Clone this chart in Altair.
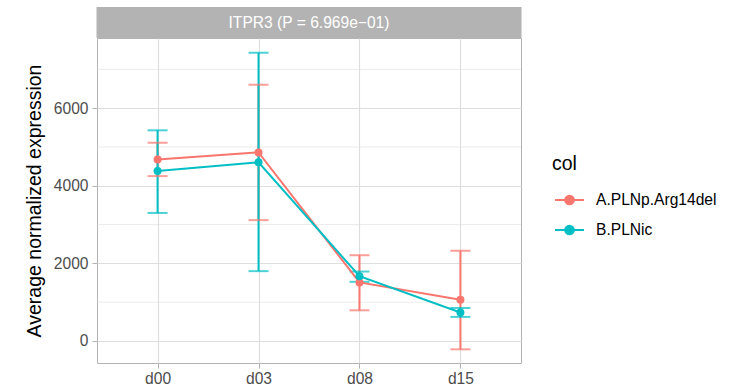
import altair as alt
import pandas as pd

# Group mean expression with error-bar limits per time point
timepoints = ["d00", "d03", "d08", "d15"]
groups = ["A.PLNp.Arg14del", "B.PLNic"]
mean_a = [4680, 4860, 1510, 1060]
low_a = [4250, 3115, 790, -215]
high_a = [5110, 6605, 2210, 2325]
mean_b = [4380, 4605, 1670, 735]
low_b = [3300, 1800, 1525, 620]
high_b = [5430, 7430, 1790, 850]

y_breaks = [0, 2000, 4000, 6000]
minor_breaks = [1000, 3000, 5000, 7000]
strip_label = "ITPR3 (P = 6.969e\u221201)"
palette = ["#F8766D", "#00BFC4"]

rows = []
for g, m, lo, hi in [(groups[0], mean_a, low_a, high_a), (groups[1], mean_b, low_b, high_b)]:
    for t, mv, l, h in zip(timepoints, m, lo, hi):
        rows.append({"time": t, "col": g, "mean": mv, "low": l, "high": h})
df = pd.DataFrame(rows)

W, H = 424, 325
FONT = "Liberation Sans"

x_enc = alt.X("time:N", scale=alt.Scale(type="point", padding=0.6, domain=timepoints),
              axis=alt.Axis(title=None, domain=False, grid=True, gridColor="#DEDEDE", gridWidth=1.2,
                            ticks=True, tickColor="#B3B3B3", tickSize=5, tickWidth=1,
                            labelColor="#4D4D4D", labelFontSize=15.6, labelFont=FONT,
                            labelPadding=3, labelAngle=0))
y_scale = alt.Scale(domain=[-568, 7810], nice=False, zero=False)
color_scale = alt.Scale(domain=groups, range=palette)

# line segment with a dot in the middle, in unit symbol coordinates
legend_symbol = "M-1,0H1M-0.3,0A0.3,0.3,0,1,0,0.3,0A0.3,0.3,0,1,0,-0.3,0Z"
shared_legend = alt.Legend(
    title="col", orient="none", legendX=455, legendY=117,
    symbolType=legend_symbol, symbolSize=841, symbolStrokeWidth=2,
    symbolOffset=2, symbolOpacity=1, labelOffset=11, rowPadding=5,
    titleFontSize=19.5, titleFont=FONT, titleColor="#000000",
    titleFontWeight="normal", titlePadding=10,
    labelFontSize=15.6, labelFont=FONT, labelColor="#000000")
color_enc = alt.Color("col:N", scale=color_scale, legend=shared_legend)

base = alt.Chart(df)

minor = alt.Chart(pd.DataFrame({"v": minor_breaks})).mark_rule(
    color="#DEDEDE", strokeWidth=0.6
).encode(y=alt.Y("v:Q", scale=y_scale))

err = base.mark_rule(strokeWidth=2).encode(
    x=x_enc,
    y=alt.Y("low:Q", scale=y_scale,
            axis=alt.Axis(title="Average normalized expression", values=y_breaks, format="d",
                          domain=False, grid=True, gridColor="#DEDEDE", gridWidth=1.2,
                          tickColor="#B3B3B3", tickSize=5, tickWidth=1,
                          labelColor="#4D4D4D", labelFontSize=15.6, labelFont=FONT, labelPadding=4,
                          titleFontSize=19.5, titleFont=FONT, titleColor="#000000",
                          titleFontWeight="normal", titlePadding=9)),
    y2="high:Q",
    color=color_enc,
)
cap_lo = base.mark_tick(size=20, thickness=2).encode(
    x="time:N", y=alt.Y("low:Q", scale=y_scale), color=color_enc)
cap_hi = base.mark_tick(size=20, thickness=2).encode(
    x="time:N", y=alt.Y("high:Q", scale=y_scale), color=color_enc)

lines = base.mark_line(strokeWidth=2).encode(
    x="time:N", y=alt.Y("mean:Q", scale=y_scale), color=color_enc)

points = base.mark_point(filled=True, size=64, opacity=1).encode(
    x="time:N", y=alt.Y("mean:Q", scale=y_scale), color=color_enc)

strip_df = pd.DataFrame({"label": [strip_label]})
strip_bg = alt.Chart(strip_df).mark_rect(color="#B3B3B3").encode(
    x=alt.value(-0.5), x2=alt.value(W + 0.5), y=alt.value(-31), y2=alt.value(0))
strip_txt = alt.Chart(strip_df).mark_text(
    color="#FFFFFF", fontSize=15.6, font=FONT, baseline="middle", align="center"
).encode(x=alt.value(W / 2), y=alt.value(-15.5), text="label:N")

chart = alt.layer(minor, err, cap_lo, cap_hi, lines, points, strip_bg, strip_txt).properties(
    width=W, height=H,
    autosize=alt.AutoSizeParams(type="none"),
    padding={"left": 97, "top": 38, "right": 736 - 97 - W, "bottom": 391 - 38 - H},
    background="#FFFFFF",
).configure_view(stroke="#B3B3B3", strokeWidth=1)

chart.save("out.html", embed_options={"renderer": "svg", "actions": False})
